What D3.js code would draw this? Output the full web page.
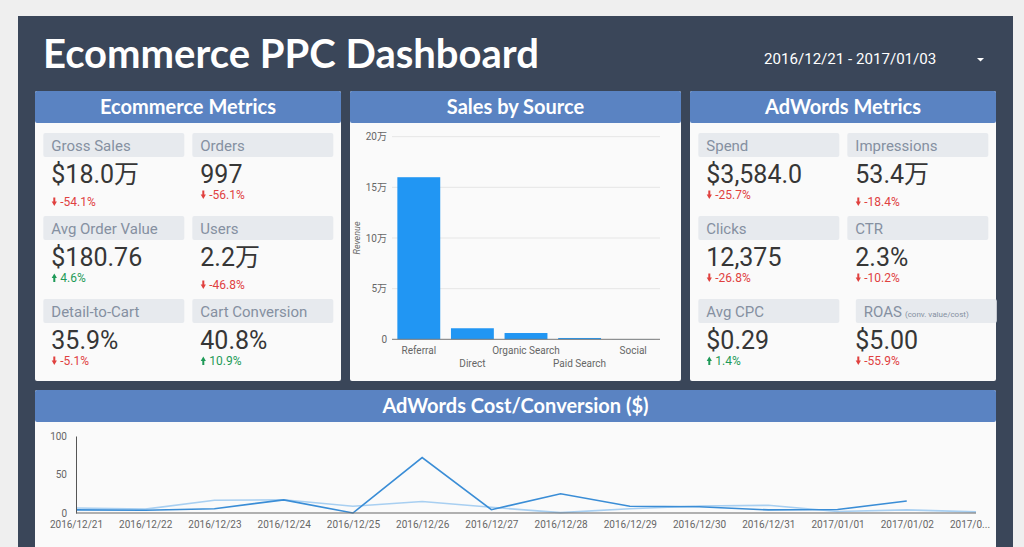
<!DOCTYPE html>
<html>
<head>
<meta charset="utf-8">
<script src="https://cdn.jsdelivr.net/npm/d3@7"></script>
<style>
body { margin: 0; background: #efefef; overflow: hidden; }
text { font-family: Roboto, "Noto Sans CJK SC", sans-serif; }
.head { font-family: Lato, sans-serif; font-weight: 700; fill: #fff; }
</style>
</head>
<body>
<svg id="dash" width="1024" height="547"></svg>
<script>
// <data>
var date_range = "2016/12/21 - 2017/01/03";

var ecom_labels = ["Gross Sales", "Orders", "Avg Order Value", "Users", "Detail-to-Cart", "Cart Conversion"];
var ecom_values = ["$18.0万", "997", "$180.76", "2.2万", "35.9%", "40.8%"];
var ecom_deltas = [-54.1, -56.1, 4.6, -46.8, -5.1, 10.9];

var adw_labels = ["Spend", "Impressions", "Clicks", "CTR", "Avg CPC", "ROAS"];
var adw_notes = ["", "", "", "", "", "(conv. value/cost)"];
var adw_values = ["$3,584.0", "53.4万", "12,375", "2.3%", "$0.29", "$5.00"];
var adw_deltas = [-25.7, -18.4, -26.8, -10.2, 1.4, -55.9];

var sources = ["Referral", "Direct", "Organic Search", "Paid Search", "Social"];
var revenue = [160000, 10900, 6200, 1300, 120];
var revenue_ticks = [0, 50000, 100000, 150000, 200000];

var days = ["2016/12/21", "2016/12/22", "2016/12/23", "2016/12/24", "2016/12/25", "2016/12/26", "2016/12/27",
            "2016/12/28", "2016/12/29", "2016/12/30", "2016/12/31", "2017/01/01", "2017/01/02", "2017/01/03"];
var cost_conv_a = [4, 3.5, 5.6, 17, 0, 72, 4.3, 25, 8.7, 8.2, 4, 4.5, 15.6, null];
var cost_conv_b = [6.5, 5, 16.5, 17.3, 8.7, 15, 7.4, 0.5, 5.6, 9, 10, 2, 4, 1.5];
var cost_ticks = [0, 50, 100];
// </data>

var svg = d3.select("#dash");
var header_blue = "#5a83c2";
var red = "#e0413f";
var green = "#1f9a58";

// dark dashboard backdrop
svg.append("rect").attr("x", 18).attr("y", 16).attr("width", 995).attr("height", 540).attr("fill", "#3a4659");

svg.append("text").attr("class", "head").attr("x", 43).attr("y", 68)
    .attr("font-size", 40).text("Ecommerce PPC Dashboard");
svg.append("text").attr("x", 764).attr("y", 64).attr("font-size", 15.1).attr("fill", "#fff")
    .text(date_range);
svg.append("path").attr("d", "M977,58 h7 l-3.5,3.5 z").attr("fill", "#fff");

function card(x, y, w, h, title) {
    var g = svg.append("g");
    g.append("rect").attr("x", x).attr("y", y).attr("width", w).attr("height", h)
        .attr("rx", 2).attr("fill", "#fafafa");
    g.append("rect").attr("x", x).attr("y", y).attr("width", w).attr("height", 32)
        .attr("rx", 2).attr("fill", header_blue);
    g.append("text").attr("class", "head").attr("x", x + w / 2).attr("y", y + 23)
        .attr("text-anchor", "middle").attr("font-size", 20).text(title);
    return g;
}

function arrow(g, x, y, up) {
    // little thick arrow in front of the deltas
    var d = up ? "M" + (x - 1) + "," + y + " v-4 h-1.6 l2.6,-4.4 l2.6,4.4 h-1.6 v4 z"
               : "M" + (x - 1) + "," + (y - 8.4) + " v4 h-1.6 l2.6,4.4 l2.6,-4.4 h-1.6 v-4 z";
    g.append("path").attr("d", d).attr("fill", up ? green : red);
}

function draw_tiles(g, x0, labels, values, deltas, notes) {
    var row_tops = [133, 216, 299];
    labels.forEach(function(label, i) {
        var bx = x0 + (i % 2) * 149;
        var by = row_tops[Math.floor(i / 2)];
        // the ROAS label box sits a little off the grid, its value does not
        var lx = (notes && notes[i]) ? bx + 8.5 : bx;
        g.append("rect").attr("x", lx).attr("y", by).attr("width", 141).attr("height", 24)
            .attr("rx", 2).attr("fill", "#e7eaee");
        var lt = g.append("text").attr("x", lx + 8).attr("y", by + 18).attr("font-size", 15)
            .attr("fill", "#8590a1").text(label);
        if (notes && notes[i]) {
            lt.append("tspan").attr("font-size", 8).attr("dx", 3).text(notes[i]);
        }
        g.append("text").attr("x", bx + 8).attr("y", by + 50).attr("font-size", 25)
            .attr("fill", "#363636").text(values[i]);
        var tall = values[i].indexOf("万") >= 0 ? 7 : 0;
        var dy = by + 66 + tall;
        var up = deltas[i] > 0;
        arrow(g, bx + 11, dy, up);
        g.append("text").attr("x", bx + 17).attr("y", dy).attr("font-size", 12)
            .attr("fill", up ? green : red).text(deltas[i].toFixed(1) + "%");
    });
}

var c1 = card(35, 91, 306, 290, "Ecommerce Metrics");
draw_tiles(c1, 43.3, ecom_labels, ecom_values, ecom_deltas);

var c3 = card(690, 91, 306, 290, "AdWords Metrics");
draw_tiles(c3, 698.3, adw_labels, adw_values, adw_deltas, adw_notes);

// Sales by Source
var c2 = card(350, 91, 331, 290, "Sales by Source");
var bx = d3.scaleBand().domain(sources).range([392, 660]).paddingInner(0.2).paddingOuter(0.1);
var by = d3.scaleLinear().domain([0, 200000]).range([339.3, 136.7]);

c2.append("g").selectAll("line").data(revenue_ticks.slice(1)).enter().append("line")
    .attr("x1", 392).attr("x2", 660).attr("y1", by).attr("y2", by)
    .attr("stroke", "#e6e6e6");
c2.append("g").selectAll("rect").data(revenue).enter().append("rect")
    .attr("x", function(d, i) { return bx(sources[i]); })
    .attr("width", bx.bandwidth())
    .attr("y", function(d) { return by(d); })
    .attr("height", function(d) { return by(0) - by(d); })
    .attr("fill", "#2196f3");

var ay = c2.append("g").attr("transform", "translate(392,0)")
    .call(d3.axisLeft(by).tickValues(revenue_ticks).tickSize(0).tickPadding(5)
          .tickFormat(function(v) { return v === 0 ? "0" : (v / 10000) + "万"; }));
ay.select(".domain").remove();
ay.selectAll("text").attr("font-size", 10).attr("fill", "#666")
    .style("font-family", "Roboto, 'Noto Sans CJK SC', sans-serif");

var ax = c2.append("g").attr("transform", "translate(0,339.3)")
    .call(d3.axisBottom(bx).tickSize(0).tickPadding(0));
ax.select(".domain").attr("stroke", "#777").attr("d", "M392,0H660");
ax.selectAll("text").attr("font-size", 10).attr("fill", "#666")
    .style("font-family", "Roboto, sans-serif")
    .attr("dy", function(d, i) { return i % 2 ? 28 : 14.5; });

c2.append("text").attr("transform", "translate(360,238) rotate(-90)")
    .attr("text-anchor", "middle").attr("font-size", 9).attr("font-style", "italic")
    .attr("fill", "#666").text("Revenue");

// AdWords Cost/Conversion
var c4 = card(35, 390, 961, 200, "AdWords Cost/Conversion ($)");
var lx = d3.scalePoint().domain(days).range([76, 976]);
var ly = d3.scaleLinear().domain([0, 100]).range([513, 436]);

var line = d3.line()
    .defined(function(d) { return d != null; })
    .x(function(d, i) { return lx(days[i]); })
    .y(function(d) { return ly(d); });

c4.append("path").datum(cost_conv_b).attr("d", line)
    .attr("fill", "none").attr("stroke", "#a8cff1").attr("stroke-width", 1.6);
c4.append("path").datum(cost_conv_a).attr("d", line)
    .attr("fill", "none").attr("stroke", "#3a8dd6").attr("stroke-width", 1.6);

var lay = c4.append("g").attr("transform", "translate(76,0)")
    .call(d3.axisLeft(ly).tickValues(cost_ticks).tickSize(0).tickPadding(9));
lay.select(".domain").attr("stroke", "#555");
lay.selectAll("text").attr("font-size", 10).attr("fill", "#666").style("font-family", "Roboto, sans-serif");

var lax = c4.append("g").attr("transform", "translate(0,513)")
    .call(d3.axisBottom(lx).tickSize(0).tickPadding(8));
lax.select(".domain").attr("stroke", "#666").attr("d", "M76,0H976");
lax.selectAll("text").attr("font-size", 10).attr("fill", "#666")
    .style("font-family", "Roboto, sans-serif")
    .each(function(d) {
        // clip labels that would run past the card edge
        var t = d3.select(this);
        var w = this.getComputedTextLength();
        if (lx(d) + w / 2 > 994) {
            var s = d;
            while (s.length > 1 && this.getComputedTextLength() > 994 - (lx(d) - w / 2)) {
                s = s.slice(0, -1);
                t.text(s + "...");
            }
            t.attr("text-anchor", "start").attr("x", -w / 2);
        }
    });
</script>
</body>
</html>
